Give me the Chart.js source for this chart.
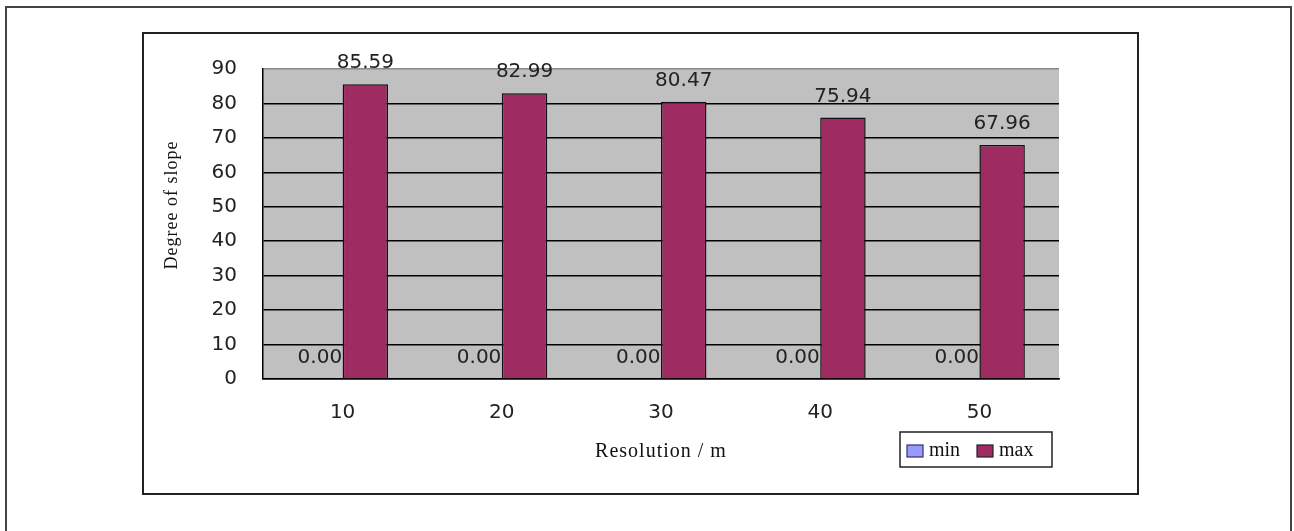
<!DOCTYPE html>
<html>
<head>
<meta charset="utf-8">
<script src="https://cdn.jsdelivr.net/npm/chart.js@4"></script>
<style>
  html, body { margin: 0; padding: 0; background: #fff; }
  #wrap { width: 1294px; height: 531px; position: relative; }
</style>
</head>
<body>
<div id="wrap"><canvas id="c" width="1294" height="531"></canvas></div>
<script>
// Slope extremes by DEM resolution
const categories = ['10', '20', '30', '40', '50'];
const minValues = [0, 0, 0, 0, 0];
const maxValues = [85.59, 82.99, 80.47, 75.94, 67.96];
const yTicks = [0, 10, 20, 30, 40, 50, 60, 70, 80, 90];
const seriesNames = ['min', 'max'];
const xTitle = 'Resolution / m';
const yTitle = 'Degree of slope';

const MIN_COLOR = '#9999FF';
const MAX_COLOR = '#9E2B62';
const TICK_FONT = '20px "DejaVu Sans"';
const SERIF_FONT = '"Liberation Serif", serif';

const framePlugin = {
  id: 'frames',
  beforeDraw(chart) {
    const ctx = chart.ctx;
    const a = chart.chartArea;
    ctx.save();
    ctx.fillStyle = '#fff';
    ctx.fillRect(0, 0, chart.width, chart.height);
    // outer page border (open at the bottom edge)
    ctx.strokeStyle = '#444';
    ctx.lineWidth = 2;
    ctx.strokeRect(6, 7, 1285, 600);
    // chart frame
    ctx.strokeStyle = '#222';
    ctx.strokeRect(143, 33, 995, 461);
    // plot background
    ctx.fillStyle = '#C0C0C0';
    ctx.fillRect(a.left, a.top, a.right - a.left, a.bottom - a.top);
    ctx.restore();
  },
  afterDraw(chart) {
    const ctx = chart.ctx;
    const a = chart.chartArea;
    ctx.save();
    // axis titles
    ctx.fillStyle = '#111';
    ctx.textAlign = 'center';
    ctx.textBaseline = 'middle';
    ctx.font = '20px ' + SERIF_FONT;
    ctx.letterSpacing = '1px';
    ctx.fillText(xTitle, (a.left + a.right) / 2, 452);
    ctx.save();
    ctx.translate(172, 205);
    ctx.rotate(-Math.PI / 2);
    ctx.font = '18px ' + SERIF_FONT;
    ctx.fillText(yTitle, 0, 0);
    ctx.restore();
    ctx.letterSpacing = '0px';
    // legend box
    ctx.fillStyle = '#fff';
    ctx.fillRect(900, 432, 152, 35);
    ctx.strokeStyle = '#222';
    ctx.lineWidth = 1.5;
    ctx.strokeRect(900, 432, 152, 35);
    const items = [
      { x: 907, color: MIN_COLOR, border: '#333366', text: chart.data.datasets[0].label },
      { x: 977, color: MAX_COLOR, border: '#222', text: chart.data.datasets[1].label }
    ];
    ctx.font = '20px ' + SERIF_FONT;
    ctx.textAlign = 'left';
    items.forEach(it => {
      ctx.fillStyle = it.color;
      ctx.fillRect(it.x, 445, 16, 12);
      ctx.strokeStyle = it.border;
      ctx.lineWidth = 1.2;
      ctx.strokeRect(it.x, 445, 16, 12);
      ctx.fillStyle = '#111';
      ctx.fillText(it.text, it.x + 22, 451);
    });
    ctx.restore();
  }
};

function drawLabels(chart, dsIndex) {
  const ctx = chart.ctx;
  const meta = chart.getDatasetMeta(dsIndex);
  const data = chart.data.datasets[dsIndex].data;
  ctx.save();
  ctx.font = TICK_FONT;
  ctx.fillStyle = '#222';
  ctx.textAlign = 'center';
  ctx.textBaseline = 'middle';
  meta.data.forEach((bar, i) => {
    ctx.fillText(data[i].toFixed(2), bar.x, bar.y - 21);
  });
  ctx.restore();
}

const labelPlugin = {
  id: 'valueLabels',
  // the zero labels sit behind the neighbouring bars
  beforeDatasetsDraw(chart) { drawLabels(chart, 0); },
  afterDatasetsDraw(chart) { drawLabels(chart, 1); }
};

new Chart(document.getElementById('c'), {
  type: 'bar',
  data: {
    labels: categories,
    datasets: [
      { label: seriesNames[0], data: minValues, backgroundColor: MIN_COLOR, borderColor: '#333366', borderWidth: 1 },
      { label: seriesNames[1], data: maxValues, backgroundColor: MAX_COLOR, borderColor: '#111', borderWidth: 1.5 }
    ]
  },
  options: {
    responsive: false,
    animation: false,
    layout: { padding: { top: 69, right: 235, left: 0, bottom: 0 } },
    categoryPercentage: 0.571,
    barPercentage: 1,
    plugins: { legend: { display: false }, tooltip: { enabled: false } },
    scales: {
      x: {
        grid: { display: false, drawTicks: false },
        border: { display: true, color: '#000', width: 1.5 },
        ticks: { font: { family: 'DejaVu Sans', size: 20 }, color: '#222', padding: 22 },
        afterFit(s) { s.height = 152; }
      },
      y: {
        min: 0,
        max: 90,
        afterBuildTicks(s) { s.ticks = yTicks.map(v => ({ value: v })); },
        grid: {
          color: c => (c.tick && c.tick.value === 90) ? '#8a8a8a' : '#000',
          lineWidth: 1.5,
          drawTicks: false
        },
        border: { display: true, color: '#000', width: 1.5 },
        ticks: { font: { family: 'DejaVu Sans', size: 20 }, color: '#222', padding: 26 },
        afterFit(s) { s.width = 263; }
      }
    }
  },
  plugins: [framePlugin, labelPlugin]
});
</script>
</body>
</html>
